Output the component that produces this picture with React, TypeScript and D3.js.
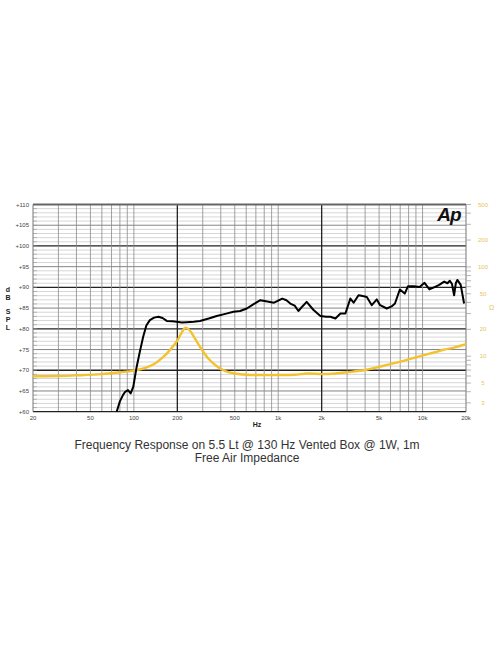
import React from "react";
import * as d3 from "d3";

const xTickLabels = ["20", "50", "100", "200", "500", "1k", "2k", "5k", "10k", "20k"];
const xTickValues = [20, 50, 100, 200, 500, 1000, 2000, 5000, 10000, 20000];
const xGridValues = [30, 40, 50, 60, 70, 80, 90, 100, 300, 400, 500, 600, 700, 800, 900, 1000, 3000, 4000, 5000, 6000, 7000, 8000, 9000, 10000];
const xMajorGrid = [200, 2000];
const yTickValues = [60, 65, 70, 75, 80, 85, 90, 95, 100, 105, 110];
const zTickLabels = [500, 200, 100, 50, 20, 10, 5, 3];
const zMinorTicks = [500, 400, 300, 200, 100, 90, 80, 70, 60, 50, 40, 30, 20, 10, 9, 8, 7, 6, 5, 4, 3];

const splFreq = [76, 80, 84, 87, 91, 95, 99, 104.5, 110, 116, 122, 129, 138, 148, 158, 169, 185, 198, 215, 232, 260, 287, 330, 375, 430, 490, 545, 606, 680, 752, 840, 935, 1000, 1067, 1140, 1213, 1300, 1380, 1470, 1574, 1750, 1960, 2150, 2300, 2490, 2700, 2920, 3160, 3330, 3600, 3850, 4110, 4450, 4820, 5080, 5650, 6100, 6440, 6960, 7530, 7930, 8700, 9540, 10320, 11160, 12000, 13050, 14120, 14880, 15450, 16000, 16540, 17000, 17420, 18380, 19400];
const splDb = [60, 62.5, 64, 64.8, 65.2, 64.4, 66, 70.8, 74.5, 78.1, 80.8, 82.1, 82.7, 82.9, 82.6, 81.9, 81.8, 81.7, 81.5, 81.6, 81.7, 81.9, 82.5, 83.1, 83.6, 84.1, 84.3, 84.9, 86.0, 86.9, 86.6, 86.3, 86.8, 87.3, 86.9, 86.1, 85.6, 84.3, 85.4, 86.5, 84.6, 83.1, 82.9, 82.9, 82.5, 83.7, 83.7, 87.3, 86.3, 88.1, 87.9, 87.7, 85.7, 87.1, 85.7, 84.9, 85.4, 86.1, 89.5, 88.5, 90.3, 90.3, 90.1, 91.1, 89.5, 90.0, 90.6, 91.4, 91.0, 91.6, 90.8, 88.1, 91.0, 91.8, 90.6, 86.1];

const impFreq = [20, 30, 40, 60, 80, 100, 120, 140, 160, 180, 200, 215, 226, 240, 260, 290, 330, 380, 430, 500, 600, 800, 1000, 1300, 1600, 2000, 2500, 3000, 4000, 5000, 6500, 8000, 10000, 12000, 14000, 16500, 20000];
const impOhm = [5.96, 6.0, 6.1, 6.3, 6.6, 6.9, 7.4, 8.3, 9.8, 12.0, 15.0, 18.5, 20.8, 20.0, 16.6, 12.4, 9.3, 7.6, 6.8, 6.4, 6.2, 6.15, 6.15, 6.2, 6.4, 6.3, 6.4, 6.6, 7.0, 7.6, 8.4, 9.2, 10.2, 11.0, 11.8, 12.5, 13.6];

const titleLines = [
  "Frequency Response on 5.5 Lt @ 130 Hz Vented Box @ 1W, 1m",
  "Free Air Impedance",
];
const yLabelLetters = ["d", "B", "S", "P", "L"];

export default function App() {
  const left = 33, right = 466, top = 204.5, bottom = 411.7;
  const x = d3.scaleLog().domain([20, 20000]).range([left, right]);
  const y = d3.scaleLinear().domain([60, 110]).range([bottom, top]);
  const z = d3.scaleLog().domain([2.39, 500]).range([bottom, top]);

  const splLine = d3.line<number>().x((_, i) => x(splFreq[i])).y((d) => y(d)).curve(d3.curveLinear);
  const impLine = d3.line<number>().x((_, i) => x(impFreq[i])).y((d) => z(d)).curve(d3.curveCatmullRom.alpha(0.5));

  const dbLines = d3.range(61, 110, 1);
  const font = "Liberation Sans, Arial, sans-serif";

  return (
    <svg width={496} height={664} style={{ position: "absolute", left: 0, top: 0, background: "#fff" }}>
      <rect x={0} y={0} width={496} height={664} fill="#fff" />
      {/* minor horizontal */}
      {dbLines.map((v) => {
        const isTen = v % 10 === 0;
        const isFive = v % 5 === 0;
        return (
          <line key={"h" + v} x1={left} x2={right} y1={y(v)} y2={y(v)}
            stroke={isTen ? "#222" : isFive ? "#777" : "#c4c4c4"}
            strokeWidth={isTen ? 1.3 : isFive ? 0.9 : 0.7} />
        );
      })}
      {/* vertical grid */}
      {xGridValues.map((f) => (
        <line key={"v" + f} x1={x(f)} x2={x(f)} y1={top} y2={bottom} stroke="#8a8a8a" strokeWidth={0.8} />
      ))}
      {xMajorGrid.map((f) => (
        <line key={"vm" + f} x1={x(f)} x2={x(f)} y1={top} y2={bottom} stroke="#222" strokeWidth={1.3} />
      ))}
      {/* small left ticks */}
      {dbLines.map((v) => (
        <line key={"lt" + v} x1={left} x2={left + 4} y1={y(v)} y2={y(v)} stroke="#999" strokeWidth={0.6} />
      ))}
      {/* frame */}
      <line x1={left} x2={right} y1={top} y2={top} stroke="#666" strokeWidth={2} />
      <line x1={left} x2={right} y1={bottom} y2={bottom} stroke="#222" strokeWidth={1.3} />
      <line x1={left} x2={left} y1={top} y2={bottom} stroke="#777" strokeWidth={1} />
      <line x1={right} x2={right} y1={top} y2={bottom} stroke="#777" strokeWidth={1} />
      {/* right ticks */}
      {zMinorTicks.map((v) => (
        <line key={"rt" + v} x1={right} x2={right + 5} y1={z(v)} y2={z(v)} stroke="#999" strokeWidth={0.7} />
      ))}
      {/* curves */}
      <path d={impLine(impOhm) || ""} fill="none" stroke="#f2c230" strokeWidth={2.4} strokeLinejoin="round" />
      <path d={splLine(splDb) || ""} fill="none" stroke="#000" strokeWidth={2} strokeLinejoin="round" />
      {/* left labels */}
      {yTickValues.map((v) => (
        <text key={"yl" + v} x={29} y={y(v)} dy="0.35em" textAnchor="end" fontSize={6} fill="#444" fontFamily={font}>
          {"+" + v}
        </text>
      ))}
      {yLabelLetters.map((c, i) => (
        <text key={"yc" + i} x={8} y={292 + i * 8 + (i >= 2 ? 6 : 0)} textAnchor="middle" fontSize={7} fontWeight="bold" fill="#222" fontFamily={font}>
          {c}
        </text>
      ))}
      {/* right labels */}
      {zTickLabels.map((v) => (
        <text key={"zl" + v} x={483} y={z(v)} dy="0.35em" textAnchor="middle" fontSize={6} fill="#e6c55a" fontFamily={font}>
          {String(v)}
        </text>
      ))}
      <text x={491.5} y={308} dy="0.35em" textAnchor="middle" fontSize={7} fill="#e6c55a" fontFamily={font}>Ω</text>
      {/* x labels */}
      {xTickValues.map((f, i) => (
        <text key={"xl" + f} x={x(f)} y={418} dy="0.35em" textAnchor="middle" fontSize={6} fill="#444" fontFamily={font}>
          {xTickLabels[i]}
        </text>
      ))}
      <text x={257} y={424.5} dy="0.35em" textAnchor="middle" fontSize={7} fontWeight="bold" fill="#222" fontFamily={font}>Hz</text>
      {/* logo */}
      <text x={449} y={221} textAnchor="middle" fontSize={19} fontWeight="bold" fontStyle="italic" fill="#111" fontFamily={font} letterSpacing={-1}>Ap</text>
      {/* title */}
      {titleLines.map((t, i) => (
        <text key={"t" + i} x={247} y={449 + i * 12.5} textAnchor="middle" fontSize={12} fill="#333" fontFamily={font}>
          {t}
        </text>
      ))}
    </svg>
  );
}
